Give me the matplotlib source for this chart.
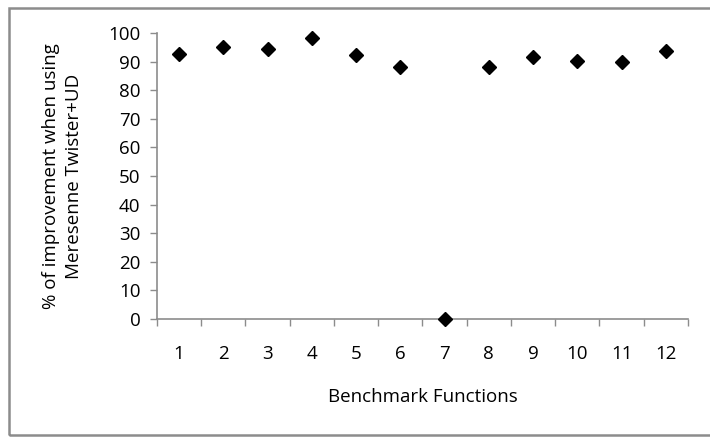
import numpy as np
import matplotlib
matplotlib.use("Agg")
import matplotlib.pyplot as plt
from matplotlib.patches import Rectangle

# benchmark function index and % improvement
benchmarks = [1, 2, 3, 4, 5, 6, 7, 8, 9, 10, 11, 12]
improvement = [92.6, 95.2, 94.5, 98.1, 92.3, 88.0, 0.0, 88.0, 91.5, 90.2, 89.9, 93.6]
y_ticks = [0, 10, 20, 30, 40, 50, 60, 70, 80, 90, 100]

plt.rcParams['font.family'] = ['Open Sans', 'DejaVu Sans']

fig = plt.figure(figsize=(7.1, 4.45), dpi=100)
ax = fig.add_axes([0.2211, 0.2831, 0.969 - 0.2211, 0.9258 - 0.2831])

# outer chart frame (open on the right, like the source image)
fig.patches.append(Rectangle((9 / 710, 1 - 435 / 445), 1.0, (435 - 8) / 445,
                             transform=fig.transFigure, fill=False,
                             edgecolor='#8c8c8c', linewidth=1.8, clip_on=False))

ax.plot(benchmarks, improvement, linestyle='none', marker='D',
        markersize=7.2, color='black', clip_on=False, zorder=5)

ax.set_xlim(0.5, 12.5)
ax.set_ylim(0, 100)
ax.set_yticks(y_ticks)
ax.set_xticks(benchmarks)
ax.set_xticks(np.arange(0.5, 13, 1), minor=True)

for s in ['top', 'right']:
    ax.spines[s].set_visible(False)
for s in ['left', 'bottom']:
    ax.spines[s].set_color('#8c8c8c')
    ax.spines[s].set_linewidth(1.2)

ax.tick_params(axis='y', direction='out', length=5, width=1, color='#8c8c8c',
               labelsize=13.5, pad=7)
ax.tick_params(axis='x', which='major', length=0, labelsize=13.5, pad=19)
ax.tick_params(axis='x', which='minor', direction='out', length=5, width=1,
               color='#8c8c8c')

ax.set_xlabel("Benchmark Functions", fontsize=13.5, labelpad=18)

# two-line y title, placed in figure pixels
fig.text(62.5 / 710, 1 - 176 / 445,
         "% of improvement when using\nMeresenne Twister+UD",
         rotation=90, ha='center', va='center', fontsize=13.5,
         linespacing=1.4, multialignment='center')

fig.savefig("out.png", dpi=100)
